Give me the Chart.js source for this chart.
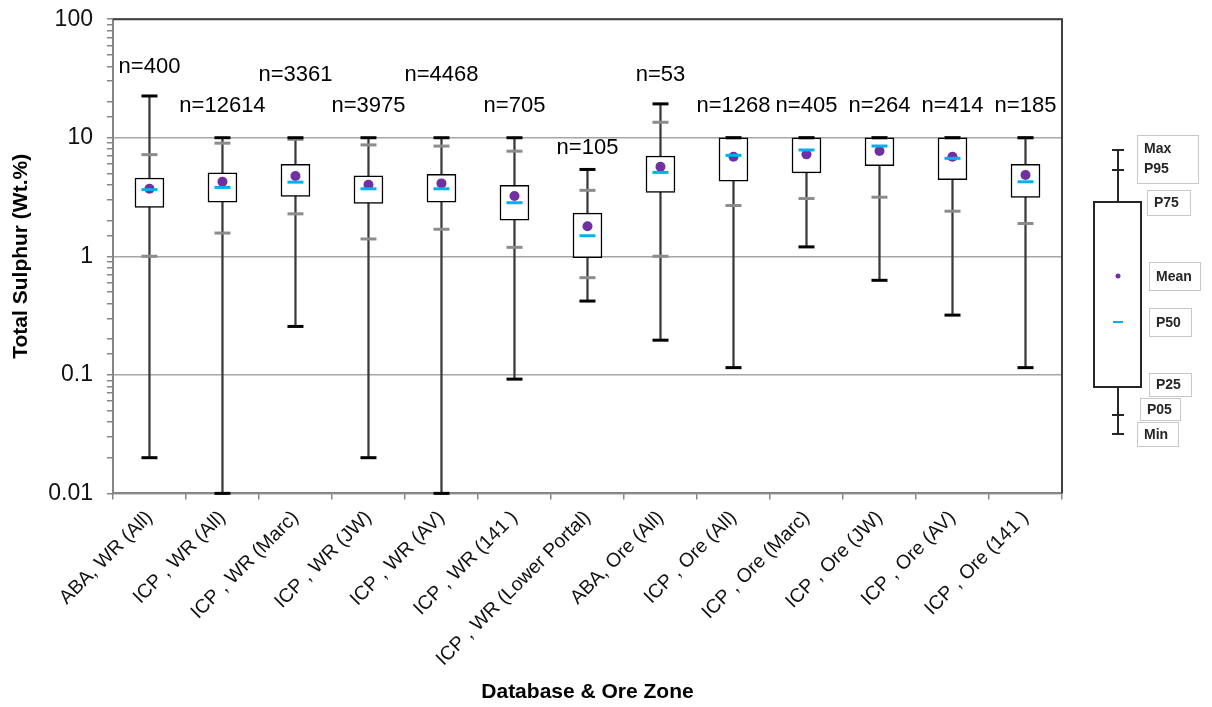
<!DOCTYPE html>
<html>
<head>
<meta charset="utf-8">
<script src="https://cdn.jsdelivr.net/npm/chart.js@4.4.1/dist/chart.umd.min.js"></script>
<style>
    html, body { margin: 0; padding: 0; background: #fff; }
    #wrap { width: 1212px; height: 707px; position: relative; }
</style>
</head>
<body>
<div id="wrap"><canvas id="grafico"></canvas></div>
<script>
// Categorias (base de datos y zona)
const categorias = [
    "ABA, WR (All)", "ICP , WR (All)", "ICP , WR (Marc)", "ICP , WR (JW)",
    "ICP , WR (AV)", "ICP , WR (141 )", "ICP , WR (Lower Portal)", "ABA, Ore (All)",
    "ICP , Ore (All)", "ICP , Ore (Marc)", "ICP , Ore (JW)", "ICP , Ore (AV)", "ICP , Ore (141 )"
];

// Estadisticos (Wt.%)
const valMax = [22.5, 10, 10, 10, 10, 10, 5.4, 19.3, 10, 10, 10, 10, 10];
const p95 = [7.2, 9.0, 9.7, 8.7, 8.5, 7.7, 3.6, 13.5, 10, 10, 10, 10, 10];
const p75 = [4.57, 5.06, 5.96, 4.78, 4.91, 3.96, 2.31, 7.01, 10, 10, 10, 10, 5.96];
const p50 = [3.65, 3.81, 4.22, 3.71, 3.71, 2.83, 1.49, 5.1, 7.1, 7.88, 8.51, 6.7, 4.25];
const media = [3.71, 4.25, 4.75, 4.01, 4.12, 3.22, 1.79, 5.69, 6.92, 7.24, 7.73, 6.92, 4.84];
const p25 = [2.58, 2.86, 3.2, 2.79, 2.86, 2.02, 0.975, 3.45, 4.31, 5.06, 5.8, 4.42, 3.13];
const p05 = [1.0, 1.57, 2.28, 1.40, 1.69, 1.19, 0.66, 1.0, 2.68, 3.07, 3.15, 2.4, 1.89];
const valMin = [0.02, 0.01, 0.256, 0.02, 0.01, 0.092, 0.419, 0.196, 0.115, 1.2, 0.627, 0.319, 0.115];

// Numero de muestras y altura (en Wt.%) de su etiqueta
const nMuestras = [400, 12614, 3361, 3975, 4468, 705, 105, 53, 1268, 405, 264, 414, 185];
const nEtiquetaEn = [39.7, 18.5, 34, 18.5, 34, 18.5, 8.2, 34, 18.5, 18.5, 18.5, 18.5, 18.5];

// Marcas del eje Y (potencias de 10)
const ticksY = [0.01, 0.1, 1, 10, 100];

const FUENTE = "'Liberation Sans', Arial, sans-serif";

function esPotencia(v) {
    return ticksY.some((t) => Math.abs(v - t) / t < 1e-6);
}

// Plugin: etiquetas n=, marco del area y leyenda del diagrama de caja
const pluginExtras = {
    id: "extras",
    beforeDatasetsDraw(chart) {
        const { ctx, chartArea: a } = chart;
        ctx.save();
        ctx.strokeStyle = "#404040";
        ctx.lineWidth = 2;
        ctx.beginPath();
        ctx.moveTo(a.left, a.top);
        ctx.lineTo(a.right, a.top);
        ctx.lineTo(a.right, a.bottom);
        ctx.stroke();
        ctx.restore();
    },
    afterDatasetsDraw(chart) {
        const { ctx } = chart;
        const x = chart.scales.x;
        const y = chart.scales.y;
        ctx.save();
        ctx.font = "22px " + FUENTE;
        ctx.fillStyle = "#000";
        ctx.textAlign = "center";
        ctx.textBaseline = "middle";
        nMuestras.forEach((n, i) => {
            ctx.fillText("n=" + n, x.getPixelForValue(i), y.getPixelForValue(nEtiquetaEn[i]));
        });
        ctx.restore();
        dibujarLeyenda(ctx, chart.chartArea);
    },
};

function dibujarLeyenda(ctx, a) {
    const cx = a.right + 56;
    ctx.save();
    // bigote
    ctx.strokeStyle = "#262626";
    ctx.lineWidth = 2;
    ctx.beginPath();
    ctx.moveTo(cx, 150); ctx.lineTo(cx, 434);
    [150, 170, 415, 434].forEach((yy) => { ctx.moveTo(cx - 6, yy); ctx.lineTo(cx + 6, yy); });
    ctx.stroke();
    // caja
    ctx.fillStyle = "#fff";
    ctx.fillRect(a.right + 32, 202, 47, 185);
    ctx.lineWidth = 2;
    ctx.strokeRect(a.right + 32, 202, 47, 185);
    // media y mediana
    ctx.fillStyle = "#7030A0";
    ctx.beginPath();
    ctx.arc(cx, 276, 2.5, 0, Math.PI * 2);
    ctx.fill();
    ctx.strokeStyle = "#00B0F0";
    ctx.beginPath();
    ctx.moveTo(cx - 5, 322); ctx.lineTo(cx + 5, 322);
    ctx.stroke();
    // cuadros de texto
    const cajas = [
        { t: ["Max", "P95"], x: 1137, y: 135, w: 61, h: 48 },
        { t: ["P75"], x: 1147, y: 190, w: 43, h: 25 },
        { t: ["Mean"], x: 1149, y: 262, w: 51, h: 28 },
        { t: ["P50"], x: 1149, y: 308, w: 42, h: 28 },
        { t: ["P25"], x: 1149, y: 373, w: 42, h: 23 },
        { t: ["P05"], x: 1140, y: 398, w: 40, h: 22 },
        { t: ["Min"], x: 1137, y: 422, w: 41, h: 24 },
    ];
    ctx.font = "bold 14px " + FUENTE;
    ctx.textBaseline = "middle";
    ctx.textAlign = "left";
    cajas.forEach((c) => {
        ctx.fillStyle = "#fff";
        ctx.fillRect(c.x, c.y, c.w, c.h);
        ctx.strokeStyle = "#c8c8c8";
        ctx.lineWidth = 1;
        ctx.strokeRect(c.x + 0.5, c.y + 0.5, c.w, c.h);
        ctx.fillStyle = "#262626";
        if (c.t.length === 2) {
            ctx.fillText(c.t[0], c.x + 7, c.y + 14);
            ctx.fillText(c.t[1], c.x + 7, c.y + 34);
        } else {
            ctx.fillText(c.t[0], c.x + 7, c.y + c.h / 2 + 1);
        }
    });
    ctx.restore();
}

function puntos(label, data, estilo, orden) {
    return Object.assign({
        type: "line",
        label: label,
        data: data,
        showLine: false,
        clip: false,
        order: orden,
    }, estilo);
}

const rango = (a, b) => a.map((v, i) => [v, b[i]]);

new Chart(document.getElementById("grafico"), {
    type: "bar",
    data: {
        labels: categorias,
        datasets: [
            {
                label: "Rango",
                data: rango(valMin, valMax),
                backgroundColor: "#3a3a3a",
                borderWidth: 0,
                barThickness: 1.6,
                grouped: false,
                order: 7,
            },
            {
                label: "P25-P75",
                data: rango(p25, p75),
                backgroundColor: "#ffffff",
                borderColor: "#000000",
                borderWidth: 1.5,
                borderSkipped: false,
                barThickness: 29,
                grouped: false,
                order: 6,
            },
            puntos("P95", p95, { pointStyle: "line", pointRadius: 8, pointBorderWidth: 3, pointBorderColor: "#8c8c8c" }, 5),
            puntos("P05", p05, { pointStyle: "line", pointRadius: 8, pointBorderWidth: 3, pointBorderColor: "#8c8c8c" }, 5),
            puntos("Max", valMax, { pointStyle: "line", pointRadius: 8, pointBorderWidth: 3, pointBorderColor: "#000" }, 4),
            puntos("Min", valMin, { pointStyle: "line", pointRadius: 8, pointBorderWidth: 3, pointBorderColor: "#000" }, 4),
            puntos("Mean", media, { pointStyle: "circle", pointRadius: 5, pointBorderWidth: 0, pointBackgroundColor: "#7030A0" }, 3),
            puntos("P50", p50, { pointStyle: "line", pointRadius: 8, pointBorderWidth: 3, pointBorderColor: "#00B0F0" }, 2),
        ],
    },
    options: {
        responsive: true,
        maintainAspectRatio: false,
        animation: false,
        layout: { padding: { top: 0, right: 150, left: 4, bottom: 2 } },
        plugins: {
            legend: { display: false },
            tooltip: { enabled: false },
        },
        scales: {
            x: {
                offset: true,
                grid: { offset: true, drawOnChartArea: false, tickLength: 6, tickColor: "#868686", lineWidth: 1.5 },
                border: { color: "#868686", width: 2 },
                ticks: {
                    maxRotation: 45,
                    minRotation: 45,
                    autoSkip: false,
                    padding: 7,
                    color: "#111",
                    font: { family: FUENTE, size: 19.5 },
                },
                title: {
                    display: true,
                    text: "Database & Ore Zone",
                    color: "#000",
                    font: { family: FUENTE, size: 21, weight: "bold" },
                    padding: { top: 2, bottom: 0 },
                },
            },
            y: {
                type: "logarithmic",
                min: 0.01,
                max: 100,
                grid: {
                    color: (c) => (c.tick && esPotencia(c.tick.value) ? "#a6a6a6" : "rgba(0,0,0,0)"),
                    tickColor: "#868686",
                    tickLength: 6,
                    lineWidth: 1.5,
                },
                border: { color: "#868686", width: 2 },
                ticks: {
                    autoSkip: false,
                    padding: 14,
                    color: "#111",
                    font: { family: FUENTE, size: 23, lineHeight: 0.45 },
                    callback: (v) => {
                        if (!esPotencia(v)) return "";
                        const e = Math.round(Math.log10(v));
                        return e >= 0 ? String(Math.pow(10, e)) : Math.pow(10, e).toFixed(-e);
                    },
                },
                title: {
                    display: true,
                    text: "Total Sulphur (Wt.%)",
                    color: "#000",
                    font: { family: FUENTE, size: 21, weight: "bold" },
                    padding: { top: 5, bottom: 0 },
                },
            },
        },
    },
    plugins: [pluginExtras],
});
</script>
</body>
</html>
